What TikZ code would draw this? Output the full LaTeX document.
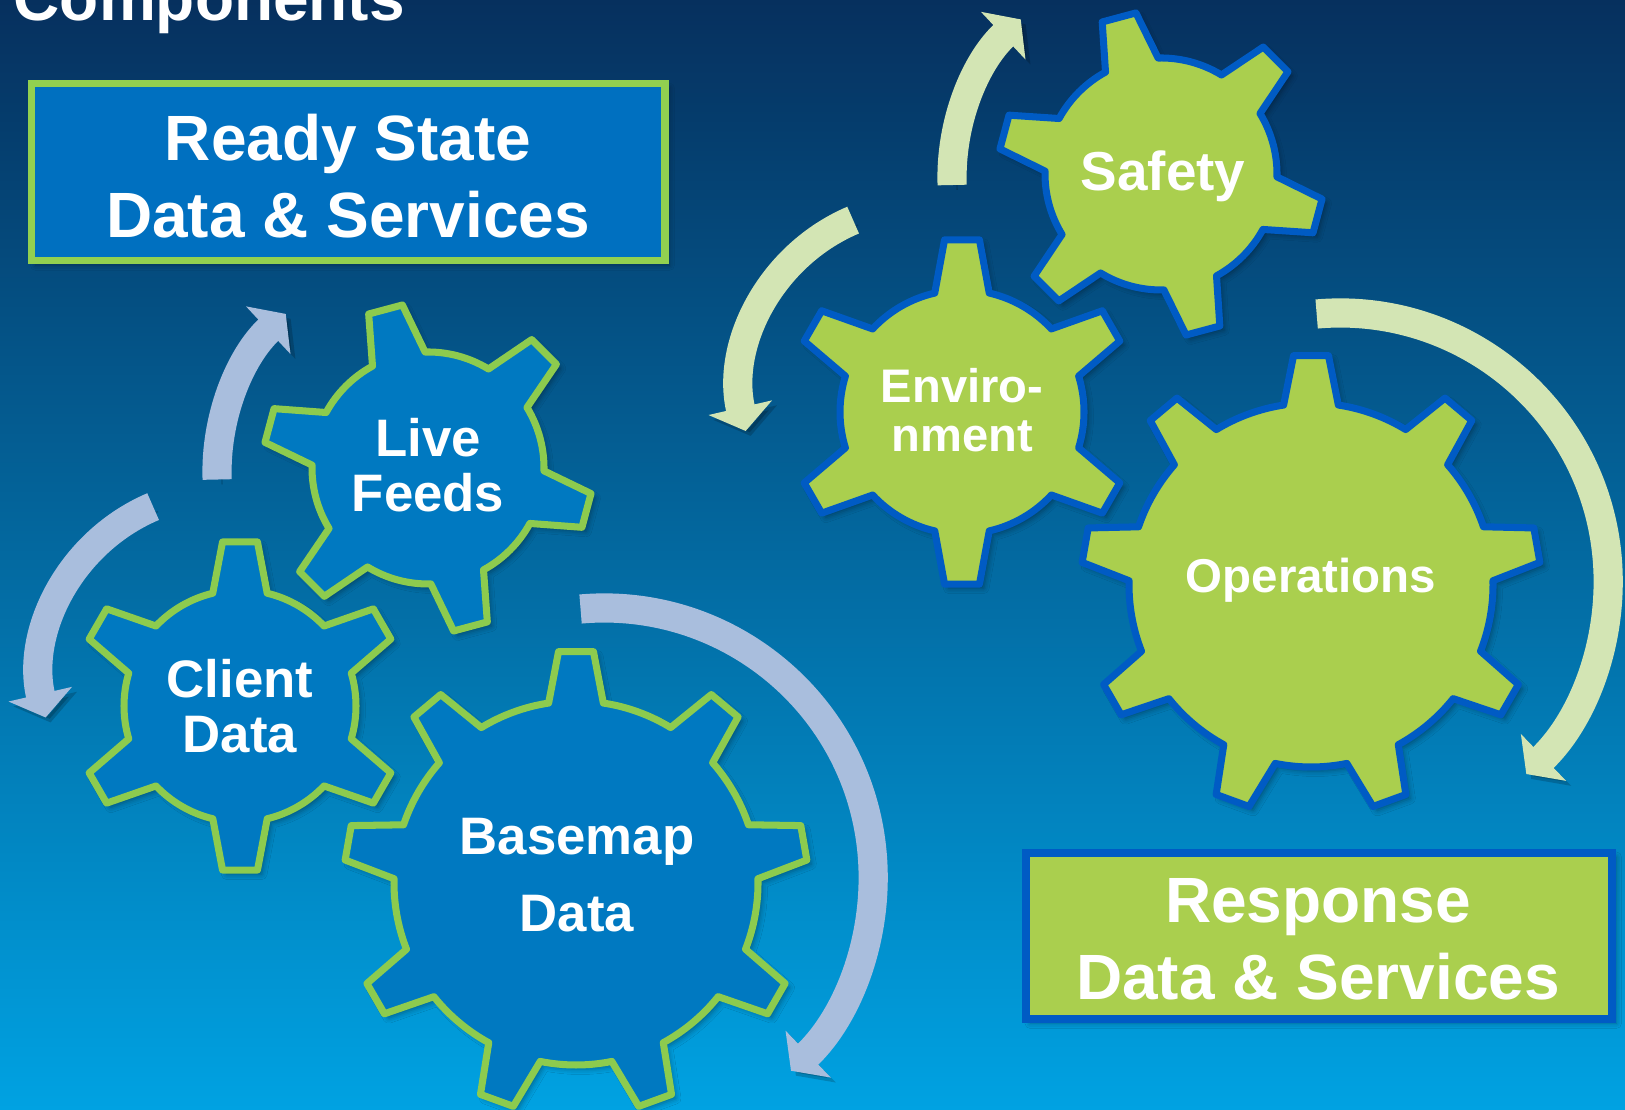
\documentclass[tikz,border=0pt]{standalone}
\usepackage{fontspec}
\setmainfont{Liberation Sans}
\usetikzlibrary{arrows.meta,shadows.blur}

\definecolor{bgtop}{HTML}{06305E}
\definecolor{bgmid}{HTML}{005E9E}
\definecolor{bgbot}{HTML}{00A2E2}
\definecolor{readyblue}{HTML}{0070C0}
\definecolor{readygreen}{HTML}{92D050}
\definecolor{gearblue}{HTML}{0079C1}
\definecolor{gearedge}{HTML}{8DCB4E}
\definecolor{respgreen}{HTML}{AACF4E}
\definecolor{respblue}{HTML}{005BC4}
\definecolor{leftarrow}{HTML}{A9BEDD}
\definecolor{rightarrow}{HTML}{D3E5B4}

% gear: centre, teeth, phase, inner r, outer r, style
\newcommand{\gear}[6]{%
  \pgfmathsetmacro{\gstep}{360/#2}
  \pgfmathsetmacro{\gbase}{deg(27.5/#4)}
  \pgfmathsetmacro{\gtip}{deg(17.5/#5)}
  \pgfmathsetmacro{\grin}{#4/100}
  \begin{scope}[shift={(#1)}]
    \draw[#6] ({#3-\gbase}:#4)
      \foreach \k in {1,...,#2}{
        -- ({#3+(\k-1)*\gstep-\gtip}:#5) -- ({#3+(\k-1)*\gstep+\gtip}:#5)
        -- ({#3+(\k-1)*\gstep+\gbase}:#4)
        arc[start angle={#3+(\k-1)*\gstep+\gbase}, end angle={#3+\k*\gstep-\gbase}, radius=\grin cm]
      } -- cycle;
  \end{scope}
}

\begin{document}
\begin{tikzpicture}[x=0.01cm, y=0.01cm,
    softshadow/.style={blur shadow={shadow xshift=1.2pt, shadow yshift=-1.2pt, shadow blur radius=1.5pt, shadow opacity=35}},
    leftgear/.style={fill=gearblue, draw=gearedge, line width=2pt, line join=round, softshadow},
    rightgear/.style={fill=respgreen, draw=respblue, line width=2pt, line join=round, softshadow},
    band/.style={line width=8.3pt, -{Triangle[width=18.2pt, length=6.8pt]},
      preaction={draw=black, opacity=0.18, transform canvas={shift={(1.4pt,-1.4pt)}}}},
    leftband/.style={band, draw=leftarrow},
    rightband/.style={band, draw=rightarrow},
    bigtext/.style={text=white, font=\bfseries\fontsize{18.2}{21.9}\selectfont, align=center, inner sep=0pt},
    gearlabel/.style={text=white, font=\bfseries\fontsize{15}{15.6}\selectfont, align=center, inner sep=0pt}]

\useasboundingbox (0,0) rectangle (1625,1110);
\clip (0,0) rectangle (1625,1110);
\shade[top color=bgtop, middle color=bgmid, bottom color=bgbot] (0,0) rectangle (1625,1110);

% title
\node[bigtext, anchor=base west] (title) at (13,1089) {Components};

% boxes
\draw[fill=readyblue, draw=readygreen, line width=2pt, softshadow] (31.5,849) rectangle (665,1026);
\node[bigtext] (ready) at (348,934) {Ready State\\Data \& Services};
\draw[fill=respgreen, draw=respblue, line width=2.3pt, softshadow] (1026,91) rectangle (1612,257);
\node[bigtext] (response) at (1318,171) {Response\\Data \& Services};

% arrows, left group
\draw[leftband] (433,638) ++(182:216) arc[start angle=182, end angle=133, radius=2.16cm];
\draw[leftband] (225,434) ++(113:184) arc[start angle=113, end angle=193, radius=1.84cm];
\draw[leftband] (604,233) ++(95:269) arc[start angle=95, end angle=-46, radius=2.69cm];

% arrows, right group
\draw[rightband] (1168,932.5) ++(182:216) arc[start angle=182, end angle=133, radius=2.16cm];
\draw[rightband] (925,720.5) ++(113:184) arc[start angle=113, end angle=193, radius=1.84cm];
\draw[rightband] (1340,529) ++(95:268) arc[start angle=95, end angle=-46, radius=2.68cm];

% gears, left group
\gear{428,642}{6}{45}{116}{165}{leftgear}
\gear{240,404}{6}{30}{116}{165}{leftgear}
\gear{576,227}{9}{10}{182}{232}{leftgear}

% gears, right group
\gear{1161,936}{6}{45}{116}{163}{rightgear}
\gear{962,698}{6}{30}{122}{173}{rightgear}
\gear{1311,525}{9}{10}{182}{230}{rightgear}

% labels
\node[gearlabel] (live) at (428,644.5) {Live\\Feeds};
\node[gearlabel] (client) at (240,403.5) {Client\\Data};
\node[gearlabel, font=\bfseries\fontsize{15}{21.9}\selectfont] (basemap) at (577,234.5) {Basemap\\Data};
\node[gearlabel, font=\bfseries\fontsize{15.6}{16}\selectfont] (safety) at (1163,934) {Safety};
\node[gearlabel, font=\bfseries\fontsize{13.4}{14}\selectfont] (enviro) at (962,699.5) {Enviro-\\nment};
\node[gearlabel, font=\bfseries\fontsize{13.5}{14}\selectfont] (ops) at (1311,530) {Operations};

\end{tikzpicture}
\end{document}
